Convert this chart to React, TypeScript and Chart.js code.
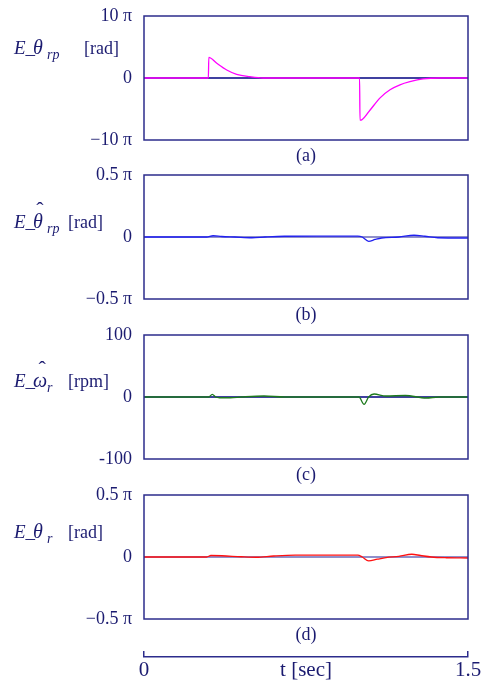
import React, { useEffect, useRef } from "react";
import { Chart, registerables } from "chart.js";
Chart.register(...registerables);

const FONT = "'Liberation Serif', 'DejaVu Serif', serif";
const TEXT = "#1b1b70";
const FRAME = "#2c2c8c";

// time axis
const T_MIN = 0;
const T_MAX = 1.5;
const timeTickValues = [0, 1.5];
const timeTickLabels = ["0", "1.5"];
const timeAxisTitle = "t [sec]";

// zero reference trace
const refT = [0, 1.5];
const refY = [0, 0];

// (a) E_theta_rp  [x pi rad]
const aT = [0, 0.298, 0.3, 0.337, 0.383, 0.429, 0.49, 0.551, 0.998, 1.0, 1.008, 1.046, 1.093, 1.139, 1.185, 1.231, 1.292, 1.37, 1.5];
const aY = [0, 0, 3.34, 2.37, 1.29, 0.59, 0.21, 0, 0, -6.8, -6.75, -5.2, -3.2, -1.9, -1.1, -0.6, -0.15, 0, 0];
const aTicks = [-10, 0, 10];
const aTickLabels = ["\u221210 \u03c0", "0", "10 \u03c0"];

// (b) E_theta_hat_rp [x pi rad]
const bT = [0, 0.29, 0.32, 0.36, 0.42, 0.5, 0.56, 0.65, 0.8, 0.99, 1.01, 1.04, 1.07, 1.1, 1.18, 1.25, 1.3, 1.36, 1.5];
const bY = [0, 0, 0.01, 0.004, 0, -0.006, 0, 0.006, 0.007, 0.007, 0, -0.035, -0.02, -0.008, 0, 0.014, 0.006, -0.006, -0.008];
const bTicks = [-0.5, 0, 0.5];
const bTickLabels = ["\u22120.5 \u03c0", "0", "0.5 \u03c0"];

// (c) E_omega_hat_r [rpm]
const cT = [0, 0.3, 0.316, 0.332, 0.35, 0.4, 0.45, 0.556, 0.65, 0.995, 1.019, 1.04, 1.065, 1.12, 1.21, 1.306, 1.366, 1.5];
const cY = [0, 0, 4.3, 0, -1.2, -1.2, 0, 1.6, 0, 0, -11.8, 0, 4.8, 1.6, 2.4, -1.6, 0, 0];
const cTicks = [-100, 0, 100];
const cTickLabels = ["-100", "0", "100"];

// (d) E_theta_r [x pi rad]
const dT = [0, 0.29, 0.31, 0.36, 0.45, 0.52, 0.6, 0.7, 0.99, 1.01, 1.04, 1.08, 1.12, 1.18, 1.24, 1.28, 1.33, 1.4, 1.5];
const dY = [0, 0, 0.012, 0.01, 0.002, -0.002, 0.008, 0.015, 0.015, 0, -0.032, -0.018, -0.005, 0.005, 0.022, 0.012, 0, -0.006, -0.008];
const dTicks = [-0.5, 0, 0.5];
const dTickLabels = ["\u22120.5 \u03c0", "0", "0.5 \u03c0"];

type LabelSpec = { sym: string; hat: boolean; sub: string; unit: string; unitX: number; base: number };

type PanelSpec = {
  top: number;
  t: number[];
  y: number[];
  ticks: number[];
  tickLabels: string[];
  color: string;
  refColor: string;
  caption: string;
  label: LabelSpec;
};

const panels: PanelSpec[] = [
  { top: 0, t: aT, y: aY, ticks: aTicks, tickLabels: aTickLabels, color: "#ff00ff", refColor: "#000080", caption: "(a)",
    label: { sym: "\u03b8", hat: false, sub: "rp", unit: "[rad]", unitX: 84, base: 38 } },
  { top: 159, t: bT, y: bY, ticks: bTicks, tickLabels: bTickLabels, color: "#2020f0", refColor: "#6a6ab8", caption: "(b)",
    label: { sym: "\u03b8", hat: true, sub: "rp", unit: "[rad]", unitX: 68, base: 53 } },
  { top: 319, t: cT, y: cY, ticks: cTicks, tickLabels: cTickLabels, color: "#1d7a1d", refColor: "#000080", caption: "(c)",
    label: { sym: "\u03c9", hat: true, sub: "r", unit: "[rpm]", unitX: 68, base: 52 } },
  { top: 479, t: dT, y: dY, ticks: dTicks, tickLabels: dTickLabels, color: "#ff1010", refColor: "#6a6ab8", caption: "(d)",
    label: { sym: "\u03b8", hat: false, sub: "r", unit: "[rad]", unitX: 68, base: 43 } },
];

const W = 486;
const PH = 170;
const PAD_TOP = 16;
const PLOT_LEFT = 144;
const PAD_RIGHT = 18;
const PLOT_H = 124;

function Panel({ spec }: { spec: PanelSpec }) {
  const ref = useRef<HTMLCanvasElement | null>(null);
  useEffect(() => {
    const canvas = ref.current!;
    const lab = spec.label;
    const deco = {
      id: "deco",
      afterDatasetsDraw(chart: any) {
        const { ctx, chartArea } = chart;
        const { left, top, right, bottom } = chartArea;
        ctx.save();
        ctx.strokeStyle = FRAME;
        ctx.lineWidth = 1.5;
        ctx.strokeRect(left, top, right - left, bottom - top);
        ctx.fillStyle = TEXT;
        ctx.textBaseline = "alphabetic";
        // caption
        ctx.font = `18px ${FONT}`;
        ctx.textAlign = "center";
        ctx.fillText(spec.caption, (left + right) / 2, top + 145);
        // y label
        ctx.textAlign = "left";
        const by = top + lab.base;
        ctx.font = `italic 19px ${FONT}`;
        ctx.fillText("E_", 14, by);
        ctx.font = `italic 20px ${FONT}`;
        ctx.fillText(lab.sym, 33, by);
        const sw = ctx.measureText(lab.sym).width;
        if (lab.hat) {
          ctx.font = `22px ${FONT}`;
          ctx.textAlign = "center";
          ctx.fillText("\u02c6", 33 + sw / 2 + 2, by - 11);
          ctx.textAlign = "left";
        }
        ctx.font = `italic 14px ${FONT}`;
        ctx.fillText(lab.sub, 47, by + 5);
        ctx.font = `18px ${FONT}`;
        ctx.fillText(lab.unit, lab.unitX, by);
        ctx.restore();
      },
    };
    const chart = new Chart(canvas, {
      type: "line",
      data: {
        datasets: [
          {
            data: spec.t.map((t, i) => ({ x: t, y: spec.y[i] })),
            borderColor: spec.color,
            borderWidth: 1.3,
            pointRadius: 0,
            cubicInterpolationMode: "monotone",
            order: 0,
          },
          {
            data: refT.map((t, i) => ({ x: t, y: refY[i] })),
            borderColor: spec.refColor,
            borderWidth: 1.6,
            pointRadius: 0,
            order: 1,
          },
        ],
      },
      options: {
        animation: false,
        responsive: false,
        maintainAspectRatio: false,
        events: [],
        layout: { padding: { top: PAD_TOP, right: PAD_RIGHT, bottom: PH - PAD_TOP - PLOT_H, left: 0 } },
        plugins: { legend: { display: false }, tooltip: { enabled: false } },
        scales: {
          x: { type: "linear", min: T_MIN, max: T_MAX, display: false },
          y: {
            type: "linear",
            min: spec.ticks[0],
            max: spec.ticks[spec.ticks.length - 1],
            afterFit: (s: any) => { s.width = PLOT_LEFT; s.paddingTop = 0; s.paddingBottom = 0; },
            afterBuildTicks: (s: any) => { s.ticks = spec.ticks.map((v) => ({ value: v })); },
            ticks: {
              callback: (v: any) => spec.tickLabels[spec.ticks.indexOf(Number(v))],
              font: { family: FONT, size: 18 },
              color: TEXT,
              padding: 12,
            },
            grid: { display: false, drawTicks: false },
            border: { display: false },
          },
        },
      } as any,
      plugins: [deco],
    });
    return () => chart.destroy();
  }, [spec]);
  return (
    <canvas ref={ref} width={W} height={PH}
      style={{ position: "absolute", left: 0, top: spec.top, width: W, height: PH, display: "block" }} />
  );
}

function TimeAxis() {
  const ref = useRef<HTMLCanvasElement | null>(null);
  useEffect(() => {
    const canvas = ref.current!;
    const deco = {
      id: "tdeco",
      afterDraw(chart: any) {
        const { ctx, chartArea } = chart;
        ctx.save();
        ctx.fillStyle = TEXT;
        ctx.font = `21px ${FONT}`;
        ctx.textAlign = "center";
        ctx.textBaseline = "alphabetic";
        ctx.fillText(timeAxisTitle, (chartArea.left + chartArea.right) / 2, chartArea.bottom + 19);
        ctx.restore();
      },
    };
    const chart = new Chart(canvas, {
      type: "line",
      data: { datasets: [] },
      options: {
        animation: false,
        responsive: false,
        maintainAspectRatio: false,
        events: [],
        layout: { padding: { top: 11, right: PAD_RIGHT, bottom: 0, left: PLOT_LEFT } },
        plugins: { legend: { display: false }, tooltip: { enabled: false } },
        scales: {
          x: {
            type: "linear",
            position: "bottom",
            min: T_MIN,
            max: T_MAX,
            afterFit: (s: any) => { s.height = 25; },
            afterBuildTicks: (s: any) => { s.ticks = timeTickValues.map((v) => ({ value: v })); },
            ticks: {
              callback: (v: any) => timeTickLabels[timeTickValues.indexOf(Number(v))],
              font: { family: FONT, size: 21 },
              color: TEXT,
              padding: 1,
              maxRotation: 0,
            },
            grid: { display: true, drawOnChartArea: true, drawTicks: false, color: FRAME, lineWidth: 1.5 },
            border: { display: true, color: FRAME, width: 1.5 },
          },
          y: { display: false, min: 0, max: 1 },
        },
      } as any,
      plugins: [deco],
    });
    return () => chart.destroy();
  }, []);
  return (
    <canvas ref={ref} width={W} height={42}
      style={{ position: "absolute", left: 0, top: 640, width: W, height: 42, display: "block" }} />
  );
}

export default function App() {
  return (
    <div style={{ position: "absolute", left: 0, top: 0, width: W, height: 682, background: "#fff" }}>
      {panels.map((p) => <Panel key={p.caption} spec={p} />)}
      <TimeAxis />
    </div>
  );
}
